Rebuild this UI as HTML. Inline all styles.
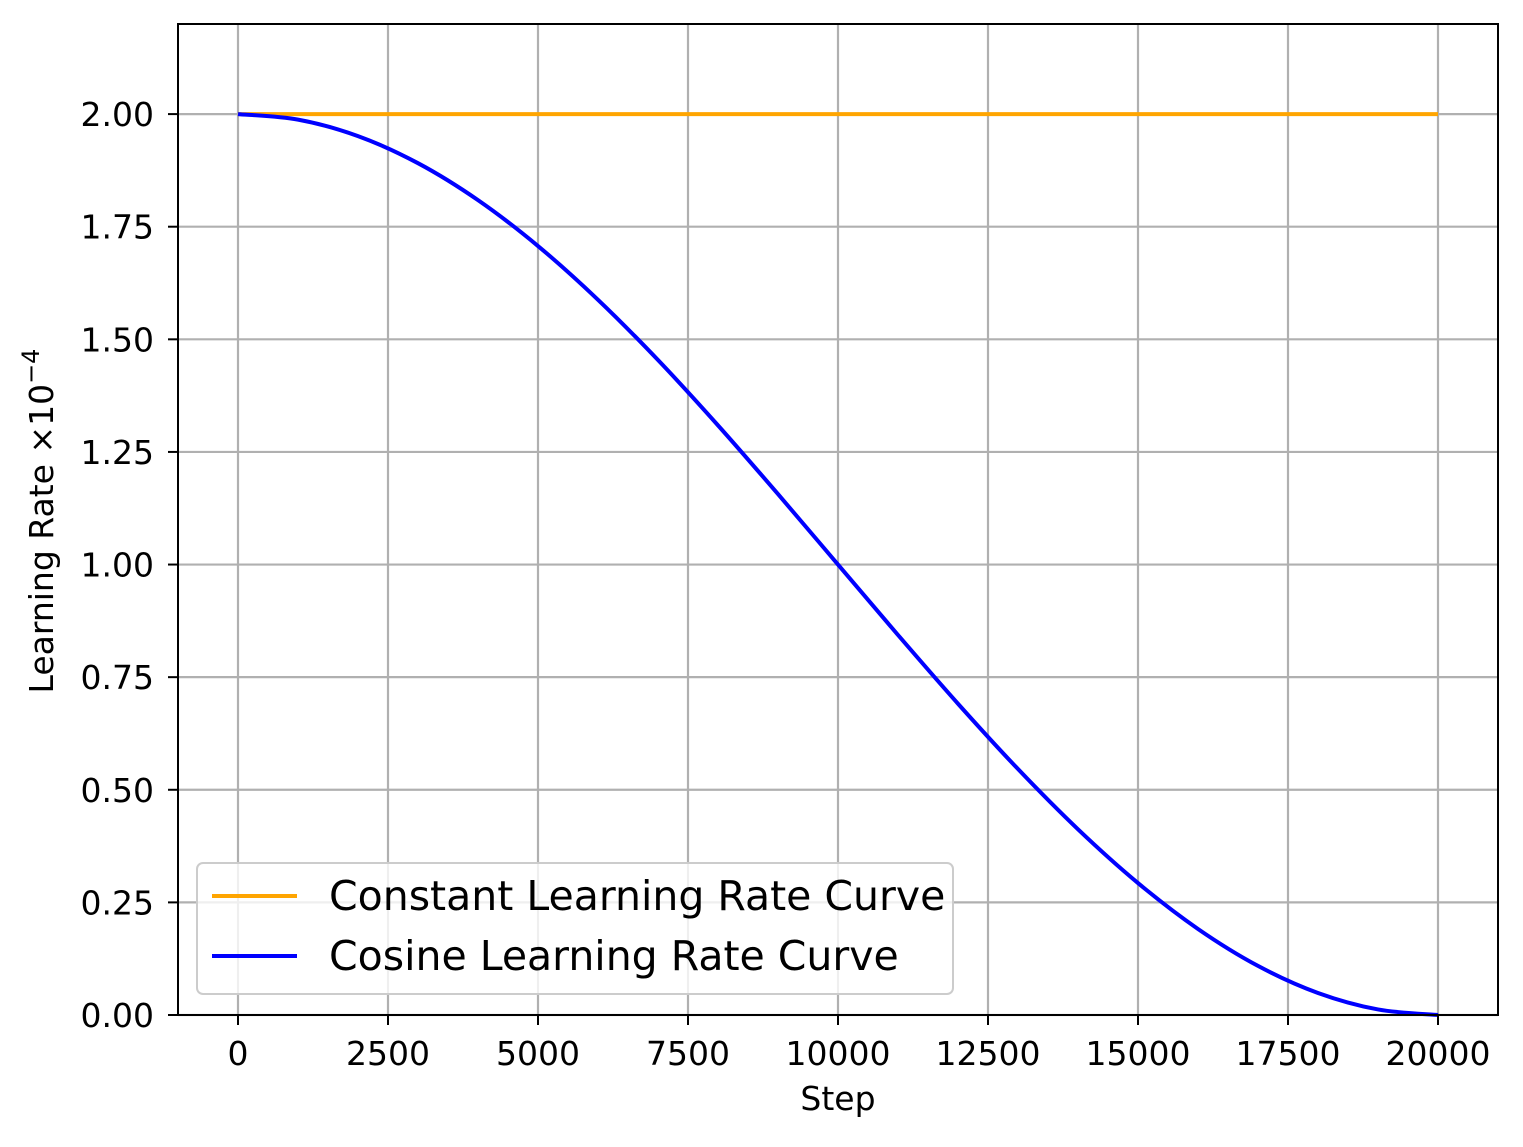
<!DOCTYPE html>
<html><head><meta charset="utf-8">
<style>
html,body{margin:0;padding:0;background:#fff;}
svg text{font-family:"DejaVu Sans","Liberation Sans",sans-serif;fill:#000;}
</style></head>
<body>
<svg id="chart" width="1523" height="1142" xmlns="http://www.w3.org/2000/svg">
<g id="grid"></g>
<g id="series"></g>
<rect x="178" y="24" width="1320" height="991" fill="none" stroke="#000" stroke-width="2"/>
<g id="ticks"></g>
<text x="838" y="1110" font-size="33" text-anchor="middle">Step</text>
<text transform="translate(53,521) rotate(-90)" font-size="33" text-anchor="middle">Learning Rate ×10<tspan dy="-14" font-size="24">−4</tspan></text>
<g>
<rect x="197" y="863" width="756" height="131" rx="6" fill="#fff" fill-opacity="0.8" stroke="#ccc" stroke-width="2"/>
<line x1="212" y1="896" x2="297" y2="896" stroke="#FFA500" stroke-width="4"/>
<text x="329" y="910" font-size="41">Constant Learning Rate Curve</text>
<line x1="212" y1="956" x2="297" y2="956" stroke="#0000FF" stroke-width="4"/>
<text x="329" y="970" font-size="41">Cosine Learning Rate Curve</text>
</g>
</svg>
<script>
const steps = [0,1000,2000,3000,4000,5000,6000,7000,8000,9000,10000,11000,12000,13000,14000,15000,16000,17000,18000,19000,20000];
const cosineLR = [2.0,1.9877,1.9511,1.8910,1.8090,1.7071,1.5878,1.4540,1.3090,1.1564,1.0,0.8436,0.6910,0.5460,0.4122,0.2929,0.1910,0.1090,0.0489,0.0123,0.0];
const constantLR = [2.0,2.0,2.0,2.0,2.0,2.0,2.0,2.0,2.0,2.0,2.0,2.0,2.0,2.0,2.0,2.0,2.0,2.0,2.0,2.0,2.0];
const xTicks = [0,2500,5000,7500,10000,12500,15000,17500,20000];
const yTicks = [0,0.25,0.5,0.75,1.0,1.25,1.5,1.75,2.0];
const yTickLabels = ["0.00","0.25","0.50","0.75","1.00","1.25","1.50","1.75","2.00"];

const X0=178,X1=1498,Y0=24,Y1=1015,XMIN=-1000,XMAX=21000,YMIN=0,YMAX=2.2;
const xs=v=>X0+(v-XMIN)/(XMAX-XMIN)*(X1-X0);
const ys=v=>Y1-(v-YMIN)/(YMAX-YMIN)*(Y1-Y0);
const NS="http://www.w3.org/2000/svg";
function mk(tag,attrs,parent){const e=document.createElementNS(NS,tag);for(const k in attrs)e.setAttribute(k,attrs[k]);parent.appendChild(e);return e;}
const grid=document.getElementById('grid'),ticks=document.getElementById('ticks'),series=document.getElementById('series');
xTicks.forEach(t=>{
  const x=xs(t);
  const g=mk('line',{x1:x,y1:Y0,x2:x,y2:Y1,stroke:'#b0b0b0','stroke-width':2.2},grid);
  
  
  const tk=mk('line',{x1:x,y1:Y1,x2:x,y2:Y1+10,stroke:'#000','stroke-width':2},ticks);
  
  
  const tx=mk('text',{x:x,y:1065,'font-size':33,'text-anchor':'middle'},ticks);
  tx.textContent=String(t);
  
  
});
yTicks.forEach((t,i)=>{
  const y=ys(t);
  const g=mk('line',{x1:X0,y1:y,x2:X1,y2:y,stroke:'#b0b0b0','stroke-width':2.2},grid);
  
  
  const tk=mk('line',{x1:X0-10,y1:y,x2:X0,y2:y,stroke:'#000','stroke-width':2},ticks);
  
  
  const tx=mk('text',{x:154,y:y+12,'font-size':33,'text-anchor':'end'},ticks);
  tx.textContent=yTickLabels[i];
  
  
});
function smoothPath(xv,yv){
  const p=xv.map((v,i)=>[xs(v),ys(yv[i])]);
  let d='M'+p[0][0]+','+p[0][1];
  for(let i=0;i<p.length-1;i++){
    const a=p[Math.max(i-1,0)],b=p[i],c=p[i+1],e=p[Math.min(i+2,p.length-1)];
    const c1=[b[0]+(c[0]-a[0])/6,b[1]+(c[1]-a[1])/6],c2=[c[0]-(e[0]-b[0])/6,c[1]-(e[1]-b[1])/6];
    d+=' C'+c1[0]+','+c1[1]+' '+c2[0]+','+c2[1]+' '+c[0]+','+c[1];
  }
  return d;
}
const cp=mk('path',{d:smoothPath(steps,constantLR),fill:'none',stroke:'#FFA500','stroke-width':4},series);


const cs=mk('path',{d:smoothPath(steps,cosineLR),fill:'none',stroke:'#0000FF','stroke-width':4},series);


</script>
</body></html>
